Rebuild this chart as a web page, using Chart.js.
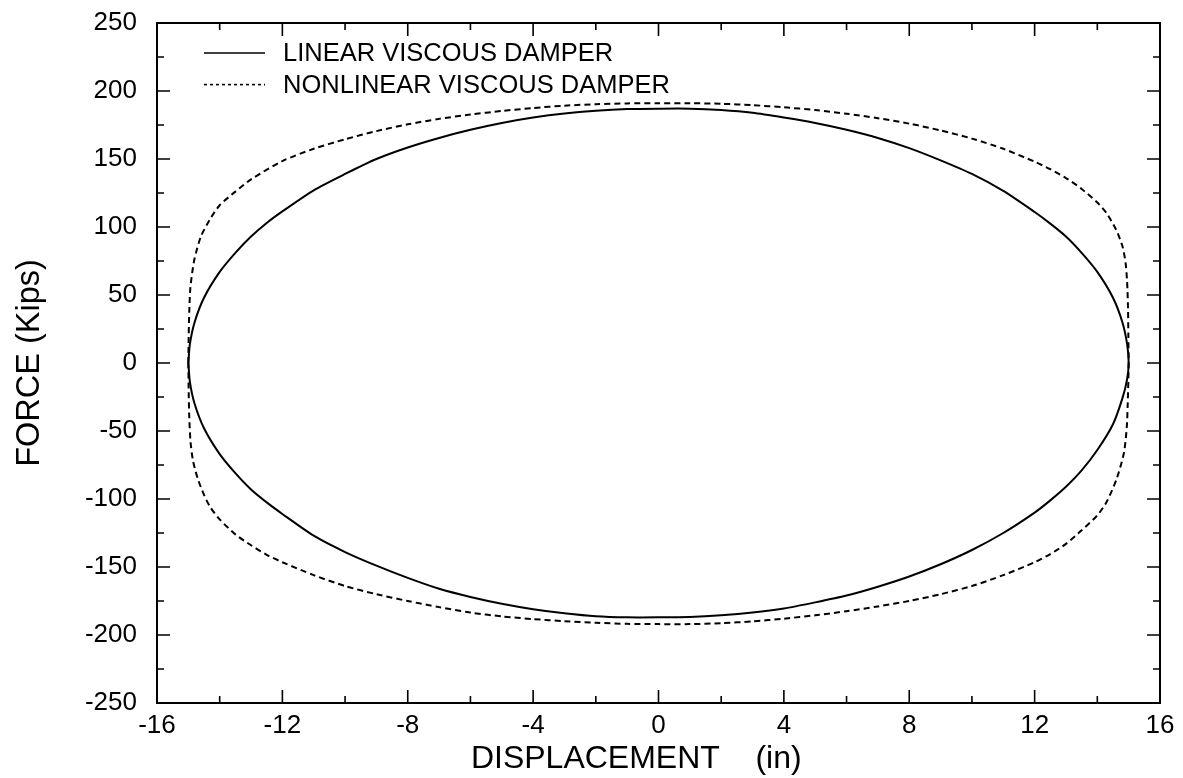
<!DOCTYPE html>
<html>
<head>
<meta charset="utf-8">
<script src="https://cdn.jsdelivr.net/npm/chart.js@4.4.1/dist/chart.umd.min.js"></script>
<style>
  html, body { margin: 0; padding: 0; background: #fff; }
  #wrap { width: 1183px; height: 778px; }
</style>
</head>
<body>
<div id="wrap"><canvas id="c" width="1183" height="778"></canvas></div>
<script>
// Hysteresis loops: damper force versus displacement over one full cycle.
const seriesNames = ['LINEAR VISCOUS DAMPER', 'NONLINEAR VISCOUS DAMPER'];

// Linear damper loop: upper branch left to right, then lower branch back
const linearDisp = [
  -15, -14.95, -14.8, -14.5, -14, -13.5, -13, -12.5, -12, -11, -10, -9, -8, -7, -6, -5, -4, -3, -2, -1, 0,
  1, 2, 3, 4, 5, 6, 7, 8, 9, 10, 11, 12, 12.5, 13, 13.5, 14, 14.5, 14.8, 14.95, 15,
  14.95, 14.8, 14.5, 14, 13.5, 13, 12.5, 12, 11, 10, 9, 8, 7, 6, 5, 4, 3, 2, 1, 0,
  -1, -2, -3, -4, -5, -6, -7, -8, -9, -10, -11, -12, -12.5, -13, -13.5, -14, -14.5, -14.8, -14.95, -15
];
const linearForce = [
  0, 14, 30, 48, 67, 81, 93, 103, 111.5, 127, 139, 150, 158.5, 165.5, 171.5, 176.5, 180.5, 183.5, 185.5, 186.7, 187,
  187, 186, 184, 180.5, 176.5, 171.5, 165.5, 158, 149, 139, 126.5, 111, 102.5, 93, 81, 67, 48, 30, 14, 0,
  -12, -26, -45, -64, -79, -91, -101, -110, -125, -137.5, -148, -157, -164.5, -171, -176, -180.5, -183.5, -185.5, -186.7, -187,
  -187, -186.2, -184, -181, -177, -172, -166, -158, -149, -139, -127, -111, -102.5, -93, -81, -67, -48, -30, -14, 0
];

// Nonlinear damper loop
const nonlinearDisp = [
  -15, -14.99, -14.97, -14.94, -14.88, -14.8, -14.6, -14.3, -14, -13.5, -13, -12, -11, -10, -9, -8, -7, -6, -5, -4, -3, -2, -1, 0,
  1, 2, 3, 4, 5, 6, 7, 8, 9, 10, 11, 12, 12.5, 13, 13.5, 14, 14.3, 14.6, 14.8, 14.9, 14.95, 14.98, 14.99, 15,
  14.99, 14.97, 14.94, 14.85, 14.62, 14.3, 14, 13.5, 13, 12.5, 12, 11, 10, 9, 8, 7, 6, 5, 4, 3, 2, 1, 0,
  -1, -2, -3, -4, -5, -6, -7, -8, -9, -10, -11, -12, -12.5, -13, -13.5, -14, -14.3, -14.5, -14.7, -14.85, -14.93, -14.97, -14.99, -15
];
const nonlinearForce = [
  0, 19, 38, 54, 66, 77, 93, 106, 116, 126, 135, 148.5, 157.5, 164.5, 170.5, 175.5, 179.5, 182.7, 185.3, 187.5, 189.2, 190.3, 190.9, 191,
  191, 190.6, 189.6, 188, 186, 183.3, 180, 176, 171, 165, 157.5, 148, 142.5, 136, 128, 118, 110, 98, 86, 74, 60, 40, 20, 0,
  -13, -30, -47, -66, -85, -102, -112, -123, -133, -140.5, -146.5, -156, -164, -170, -175, -179, -182.5, -185.5, -188, -190, -191.3, -192, -192,
  -191.8, -191, -189.8, -188.3, -186.3, -183.5, -179.5, -175, -170, -164, -156, -146.5, -141, -134, -126, -115, -106, -97, -85, -72, -58, -40, -20, 0
];

// Axis ranges and tick spacing
const xRange = [-16, 16];
const yRange = [-250, 250];
const xMajorStep = 4, xMinorStep = 2;
const yMajorStep = 50, yMinorStep = 25;

const FONT = '"Liberation Sans", Arial, Helvetica, sans-serif';

function toPoints(xs, ys) {
  return xs.map((v, i) => ({ x: v, y: ys[i] }));
}

// Boxed frame with inward tick marks on all four sides
const frameTicks = {
  id: 'frameTicks',
  afterDraw(chart) {
    const { ctx, chartArea: { left, right, top, bottom }, scales: { x, y } } = chart;
    ctx.save();
    ctx.strokeStyle = '#000';
    ctx.lineWidth = 1.6;
    ctx.beginPath();
    for (let v = xRange[0]; v <= xRange[1]; v += xMinorStep) {
      const px = x.getPixelForValue(v);
      const len = (v % xMajorStep === 0) ? 13 : 7;
      ctx.moveTo(px, bottom); ctx.lineTo(px, bottom - len);
      ctx.moveTo(px, top); ctx.lineTo(px, top + len);
    }
    for (let v = yRange[0]; v <= yRange[1]; v += yMinorStep) {
      const py = y.getPixelForValue(v);
      const len = (v % yMajorStep === 0) ? 13 : 7;
      ctx.moveTo(left, py); ctx.lineTo(left + len, py);
      ctx.moveTo(right, py); ctx.lineTo(right - len, py);
    }
    ctx.stroke();
    ctx.lineWidth = 2;
    ctx.strokeRect(left, top, right - left, bottom - top);
    ctx.restore();
  }
};

// Legend drawn inside the plot, top-left
const insetLegend = {
  id: 'insetLegend',
  afterDraw(chart) {
    const { ctx, chartArea: { left, top } } = chart;
    ctx.save();
    ctx.font = '25.5px ' + FONT;
    ctx.fillStyle = '#000';
    ctx.textBaseline = 'middle';
    chart.data.datasets.forEach((ds, i) => {
      const yy = top + 30 + i * 31.6;
      ctx.strokeStyle = '#000';
      ctx.lineWidth = 1.6;
      ctx.setLineDash(i === 0 ? [] : [3, 3]);
      ctx.beginPath();
      ctx.moveTo(left + 47, yy);
      ctx.lineTo(left + 108, yy);
      ctx.stroke();
      ctx.setLineDash([]);
      ctx.fillText(ds.label, left + 126, yy + 1);
    });
    ctx.restore();
  }
};

new Chart(document.getElementById('c'), {
  type: 'scatter',
  data: {
    datasets: [
      {
        label: seriesNames[0],
        data: toPoints(linearDisp, linearForce),
        showLine: true,
        borderColor: '#000',
        borderWidth: 2,
        pointRadius: 0,
        tension: 0.25,
        fill: false
      },
      {
        label: seriesNames[1],
        data: toPoints(nonlinearDisp, nonlinearForce),
        showLine: true,
        borderColor: '#000',
        borderWidth: 2,
        borderDash: [6, 4],
        pointRadius: 0,
        tension: 0.25,
        fill: false
      }
    ]
  },
  options: {
    responsive: false,
    animation: false,
    devicePixelRatio: 1,
    layout: { padding: { left: 0, right: 23, top: 23, bottom: 0 } },
    plugins: {
      legend: { display: false },
      tooltip: { enabled: false }
    },
    scales: {
      x: {
        type: 'linear',
        min: xRange[0],
        max: xRange[1],
        grid: { display: false, drawTicks: false },
        border: { display: false },
        ticks: {
          stepSize: xMajorStep,
          color: '#000',
          padding: 7,
          font: { family: FONT, size: 26 }
        },
        title: {
          display: true,
          text: 'DISPLACEMENT    (in)     ',
          color: '#000',
          font: { family: FONT, size: 32 },
          padding: { top: 0, bottom: 0 }
        },
        afterFit(scale) {
          scale.height = 75;
          scale.paddingLeft = 0;
          scale.paddingRight = 0;
        }
      },
      y: {
        type: 'linear',
        min: yRange[0],
        max: yRange[1],
        grid: { display: false, drawTicks: false },
        border: { display: false },
        ticks: {
          stepSize: yMajorStep,
          color: '#000',
          padding: 20,
          font: { family: FONT, size: 26 }
        },
        title: {
          display: true,
          text: 'FORCE (Kips)',
          color: '#000',
          font: { family: FONT, size: 32.5 },
          padding: { top: 11, bottom: 0 }
        },
        afterFit(scale) {
          scale.width = 157;
          scale.paddingTop = 0;
          scale.paddingBottom = 0;
        }
      }
    }
  },
  plugins: [frameTicks, insetLegend]
});
</script>
</body>
</html>
